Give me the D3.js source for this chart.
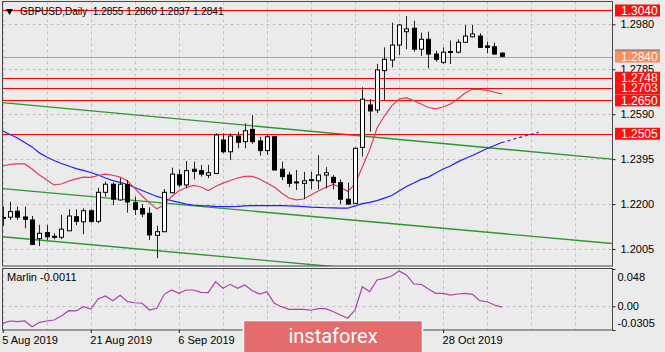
<!DOCTYPE html>
<html><head><meta charset="utf-8">
<script src="https://cdn.jsdelivr.net/npm/d3@7"></script>
<style>
html,body{margin:0;padding:0;background:#ebebeb;}
svg{display:block;font-family:"Liberation Sans",Arial,sans-serif;}
</style></head><body>
<svg id="c" width="665" height="352"></svg>
<script>
// ---------- DATA ----------
const symbolTitle = "GBPUSD,Daily";
const titleOHLC = ["1.2855", "1.2860", "1.2837", "1.2841"];
const open = [1.2141,1.2143,1.2169,1.2144,1.2131,1.2050,1.2076,1.2060,1.2056,1.2084,
  1.2145,1.2123,1.2171,1.2125,1.2251,1.2286,1.2218,1.2285,1.2206,1.2180,
  1.2160,1.2064,1.2080,1.2249,1.2327,1.2283,1.2351,1.2345,1.2325,1.2333,
  1.2478,1.2427,1.2495,1.2471,1.2524,1.2474,1.2432,1.2492,1.2351,1.2326,
  1.2296,1.2290,1.2304,1.2301,1.2326,1.2316,1.2293,1.2221,1.2203,1.2446,
  1.2630,1.2608,1.2779,1.2825,1.2890,1.2948,1.2963,1.2872,1.2915,1.2851,
  1.2815,1.2862,1.2859,1.2902,1.2926,1.2929,1.2886,1.2883,1.2855];
const high = [1.2189,1.2210,1.2189,1.2189,1.2148,1.2110,1.2109,1.2073,1.2153,1.2177,
  1.2177,1.2182,1.2177,1.2271,1.2297,1.2293,1.2314,1.2304,1.2232,1.2200,
  1.2186,1.2106,1.2265,1.2358,1.2351,1.2387,1.2384,1.2370,1.2370,1.2507,
  1.2507,1.2507,1.2514,1.2550,1.2586,1.2492,1.2500,1.2495,1.2384,1.2340,
  1.2348,1.2340,1.2340,1.2413,1.2360,1.2326,1.2307,1.2293,1.2446,1.2707,
  1.2655,1.2808,1.2880,1.2987,1.2981,1.3016,1.2996,1.2944,1.2948,1.2865,
  1.2880,1.2909,1.2915,1.2977,1.2977,1.2941,1.2905,1.2900,1.2860];
const low = [1.2105,1.2131,1.2131,1.2095,1.2022,1.2018,1.2044,1.2047,1.2048,1.2083,
  1.2109,1.2069,1.2119,1.2117,1.2232,1.2195,1.2215,1.2163,1.2153,1.2143,
  1.2044,1.1965,1.2079,1.2247,1.2273,1.2268,1.2307,1.2319,1.2312,1.2330,
  1.2420,1.2391,1.2442,1.2442,1.2461,1.2410,1.2413,1.2346,1.2304,1.2273,
  1.2261,1.2221,1.2264,1.2264,1.2268,1.2264,1.2200,1.2196,1.2203,1.2406,
  1.2514,1.2595,1.2652,1.2793,1.2847,1.2872,1.2861,1.2842,1.2789,1.2818,
  1.2808,1.2808,1.2854,1.2900,1.2923,1.2878,1.2854,1.2847,1.2837];
const close = [1.2142,1.2167,1.2143,1.2134,1.2025,1.2073,1.2058,1.2057,1.2091,1.2148,
  1.2125,1.2171,1.2125,1.2251,1.2286,1.2221,1.2286,1.2209,1.2177,1.2157,
  1.2066,1.2080,1.2251,1.2330,1.2283,1.2345,1.2342,1.2330,1.2336,1.2500,
  1.2427,1.2495,1.2468,1.2518,1.2471,1.2432,1.2492,1.2348,1.2319,1.2290,
  1.2293,1.2301,1.2306,1.2326,1.2336,1.2293,1.2221,1.2200,1.2442,1.2655,
  1.2604,1.2782,1.2828,1.2890,1.2977,1.2960,1.2872,1.2915,1.2851,1.2828,
  1.2859,1.2860,1.2902,1.2929,1.2938,1.2880,1.2880,1.2851,1.2841];
const redMA = [1.2365,1.2372,1.2374,1.2374,1.2352,1.2326,1.2304,1.2283,1.2287,1.2300,
  1.2309,1.2317,1.2316,1.2324,1.2330,1.2325,1.2317,1.2300,1.2268,1.2235,
  1.2205,1.2179,1.2196,1.2233,1.2257,1.2272,1.2281,1.2274,1.2259,1.2276,
  1.2291,1.2302,1.2313,1.2320,1.2320,1.2309,1.2291,1.2274,1.2248,1.2226,
  1.2218,1.2222,1.2239,1.2257,1.2272,1.2285,1.2274,1.2255,1.2287,1.2361,
  1.2435,1.2530,1.2582,1.2626,1.2656,1.2662,1.2649,1.2634,1.2619,1.2613,
  1.2621,1.2634,1.2656,1.2682,1.2698,1.2698,1.2693,1.2685,1.2678];
const blueMA = [1.2517,1.2502,1.2487,1.2467,1.2448,1.2422,1.2404,1.2389,1.2376,1.2365,
  1.2354,1.2346,1.2337,1.2326,1.2313,1.2302,1.2294,1.2285,1.2272,1.2259,
  1.2246,1.2233,1.2224,1.2215,1.2207,1.2200,1.2196,1.2193,1.2192,1.2190,
  1.2189,1.2189,1.2190,1.2192,1.2193,1.2193,1.2193,1.2193,1.2193,1.2192,
  1.2191,1.2189,1.2187,1.2186,1.2184,1.2183,1.2182,1.2182,1.2192,1.2202,
  1.2207,1.2215,1.2226,1.2237,1.2257,1.2276,1.2291,1.2307,1.2317,1.2335,
  1.2352,1.2365,1.2383,1.2398,1.2411,1.2426,1.2441,1.2454,1.2467];
const blueForecast = [1.2476,1.2485,1.2494,1.2503,1.2511];
const marlin = [-0.0219,-0.0189,-0.0196,-0.0189,-0.0263,-0.0206,-0.0189,-0.0176,-0.0125,-0.0057,
  -0.0060,-0.0005,-0.0035,0.0094,0.0133,0.0072,0.0142,0.0059,0.0046,0.0039,
  -0.0048,-0.0026,0.0154,0.0210,0.0167,0.0210,0.0210,0.0180,0.0175,0.0317,
  0.0232,0.0283,0.0232,0.0274,0.0201,0.0158,0.0188,0.0039,-0.0005,-0.0039,
  -0.0039,-0.0039,-0.0051,-0.0031,-0.0031,-0.0067,-0.0112,-0.0154,-0.0048,0.0252,
  0.0188,0.0338,0.0360,0.0390,0.0455,0.0403,0.0287,0.0283,0.0223,0.0167,
  0.0167,0.0145,0.0158,0.0167,0.0154,0.0072,0.0059,0.0017,-0.0011];
const marlinTitle = "Marlin -0.0011";
const channelStartIdx = 0, channelEndIdx = 83;
const channelStart = [1.2640, 1.2267, 1.2058];
const channelEnd = [1.2395, 1.2029, 1.1820];
const redLevels = [1.3040, 1.2748, 1.2703, 1.2650, 1.2505];
const currentLevel = 1.2840;
const priceTicks = [1.2980, 1.2785, 1.2590, 1.2395, 1.2200, 1.2005];
const marlinTicks = [0.048, 0.00, -0.0305];
const marlinTickLabels = ["0.048", "0.00", "-0.0305"];
const xTickIdx = [0, 12, 24, 60];
const xTickLabels = ["5 Aug 2019", "21 Aug 2019", "6 Sep 2019", "28 Oct 2019"];
const priceDomain = [1.19312, 1.30768];
const marlinDomain = [-0.0305, 0.048];

// ---------- LAYOUT ----------
const L = 2.5, R = 612.5, mT = 1.5, mB = 266, sT = 268.5, sB = 330;
const x = d3.scaleLinear().domain([0, 83]).range([2.7, 611.9]);
const y = d3.scaleLinear().domain(priceDomain).range([266, 2]);
const ym = d3.scaleLinear().domain(marlinDomain).range([sB, 269]);

const svg = d3.select("#c");
svg.append("rect").attr("width", 665).attr("height", 352).attr("fill", "#ebebeb");
const defs = svg.append("defs");
defs.append("clipPath").attr("id", "mc").append("rect").attr("x", L).attr("y", mT).attr("width", R - L).attr("height", mB - mT);
defs.append("clipPath").attr("id", "sc").append("rect").attr("x", L).attr("y", sT).attr("width", R - L).attr("height", sB - sT);
const gM = svg.append("g").attr("clip-path", "url(#mc)");
const gS = svg.append("g").attr("clip-path", "url(#sc)");

const gridColor = "#c2c2c2";
const gridIdx = d3.range(0, 84, 6);
[[gM, mT, mB], [gS, sT, sB]].forEach(([g, t, b]) => {
  g.selectAll(null).data(gridIdx).join("line")
    .attr("x1", d => Math.round(x(d)) + 0.5).attr("x2", d => Math.round(x(d)) + 0.5)
    .attr("y1", t).attr("y2", b)
    .attr("stroke", gridColor).attr("stroke-dasharray", "3,3");
});
gM.selectAll(null).data(priceTicks).join("line")
  .attr("x1", L).attr("x2", R)
  .attr("y1", d => Math.round(y(d)) + 0.5).attr("y2", d => Math.round(y(d)) + 0.5)
  .attr("stroke", gridColor).attr("stroke-dasharray", "3,3");
gS.append("line").attr("x1", L).attr("x2", R)
  .attr("y1", Math.round(ym(0)) + 0.5).attr("y2", Math.round(ym(0)) + 0.5)
  .attr("stroke", gridColor).attr("stroke-dasharray", "3,3");

// channel lines
gM.selectAll(null).data(channelStart).join("line")
  .attr("x1", x(channelStartIdx)).attr("y1", d => y(d))
  .attr("x2", x(channelEndIdx)).attr("y2", (d, i) => y(channelEnd[i]))
  .attr("stroke", "#2f962f").attr("stroke-width", 1.4);

// level lines
gM.selectAll(null).data(redLevels).join("line")
  .attr("x1", L).attr("x2", R)
  .attr("y1", d => Math.round(y(d)) + 0.5).attr("y2", d => Math.round(y(d)) + 0.5)
  .attr("stroke", "#ff0000").attr("stroke-width", 1);
gM.append("line").attr("x1", L).attr("x2", R)
  .attr("y1", Math.round(y(currentLevel)) + 0.5).attr("y2", Math.round(y(currentLevel)) + 0.5)
  .attr("stroke", "#f8895c").attr("stroke-width", 1);

// moving averages
const line = d3.line().x((d, i) => x(i)).y(d => y(d));
gM.append("path").attr("d", line(blueMA)).attr("fill", "none").attr("stroke", "#1f1fff").attr("stroke-width", 1.2);
const fc = [blueMA[blueMA.length - 1]].concat(blueForecast);
gM.append("path").attr("d", d3.line().x((d, i) => x(blueMA.length - 1 + i)).y(d => y(d))(fc))
  .attr("fill", "none").attr("stroke", "#1f1fff").attr("stroke-width", 1.2).attr("stroke-dasharray", "3,3");
gM.append("path").attr("d", line(redMA)).attr("fill", "none").attr("stroke", "#e23a5a").attr("stroke-width", 1.2);

// candles
const idx = d3.range(open.length);
gM.selectAll(null).data(idx).join("line")
  .attr("x1", i => Math.round(x(i)) + 0.5).attr("x2", i => Math.round(x(i)) + 0.5)
  .attr("y1", i => y(high[i])).attr("y2", i => y(low[i]))
  .attr("stroke", "#222").attr("stroke-width", 1);
gM.selectAll(null).data(idx).join("rect")
  .attr("x", i => Math.round(x(i)) - 1.5)
  .attr("width", 4)
  .attr("y", i => Math.min(y(open[i]), y(close[i])))
  .attr("height", i => Math.max(1, Math.abs(y(open[i]) - y(close[i]))))
  .attr("fill", i => close[i] >= open[i] ? "#ffffff" : "#000000")
  .attr("stroke", "#000").attr("stroke-width", 1);

// marlin
gS.append("path").attr("d", d3.line().x((d, i) => x(i)).y(d => ym(d))(marlin))
  .attr("fill", "none").attr("stroke", "#b040b0").attr("stroke-width", 1.2);

// borders
svg.append("rect").attr("x", L).attr("y", mT).attr("width", R - L).attr("height", mB - mT)
  .attr("fill", "none").attr("stroke", "#4a4a4a").attr("stroke-width", 1);
svg.append("rect").attr("x", L).attr("y", sT).attr("width", R - L).attr("height", sB - sT)
  .attr("fill", "none").attr("stroke", "#4a4a4a").attr("stroke-width", 1);

// axes
const fmt4 = d3.format(".4f");
const ax = svg.append("g").attr("transform", `translate(${R},0)`)
  .call(d3.axisRight(y).tickValues(priceTicks).tickSize(3).tickPadding(5).tickFormat(fmt4));
const axS = svg.append("g").attr("transform", `translate(${R},0)`)
  .call(d3.axisRight(ym).tickValues(marlinTicks).tickSize(3).tickPadding(2).tickFormat((d, i) => marlinTickLabels[i]));
axS.selectAll(".tick text").attr("dy", (d, i) => i === 0 ? "1.05em" : (i === 2 ? "-0.3em" : "0.32em"));
const axB = svg.append("g").attr("transform", `translate(0,${sB})`)
  .call(d3.axisBottom(x).tickValues(xTickIdx).tickSize(3).tickPadding(3).tickFormat((d, i) => xTickLabels[i]));
axB.selectAll(".tick text").attr("text-anchor", "start").attr("dx", -1);
[ax, axS, axB].forEach(a => {
  a.select(".domain").remove();
  a.selectAll(".tick line").attr("stroke", "#222");
  a.selectAll(".tick text").attr("fill", "#000").attr("font-size", 11)
    .attr("font-family", "Liberation Sans, Arial, sans-serif");
});

// level price boxes
const boxes = svg.append("g");
boxes.selectAll(null).data(redLevels).join("rect")
  .attr("x", 615).attr("width", 45).attr("y", d => y(d) - 6).attr("height", 12).attr("fill", "#ff1010");
boxes.selectAll(null).data(redLevels).join("text")
  .attr("x", 621).attr("y", d => y(d) + 4.3).text(d => fmt4(d))
  .attr("fill", "#fff").attr("font-size", 12);
boxes.append("rect").attr("x", 615).attr("width", 45).attr("y", y(currentLevel) - 6).attr("height", 12).attr("fill", "#fa8c60");
boxes.append("line").attr("x1", 615).attr("x2", 660).attr("y1", y(currentLevel) - 6.5).attr("y2", y(currentLevel) - 6.5).attr("stroke", "#7a4a30");
boxes.append("text").attr("x", 621).attr("y", y(currentLevel) + 4.3).text(fmt4(currentLevel))
  .attr("fill", "#fff2ea").attr("font-size", 12);

// title
svg.append("path").attr("d", d3.symbol(d3.symbolTriangle, 22)())
  .attr("transform", "translate(9.5,11) rotate(180)").attr("fill", "#000");
svg.append("text").attr("x", 20).attr("y", 15).attr("font-size", 10).attr("fill", "#000")
  .style("white-space", "pre")
  .text(symbolTitle + "  " + titleOHLC.join(" "));
svg.append("text").attr("x", 7).attr("y", 281).attr("font-size", 11).attr("fill", "#000").text(marlinTitle);

// logo
svg.append("rect").attr("x", 243.5).attr("y", 320.5).attr("width", 179).attr("height", 40)
  .attr("fill", "#e46c6c").attr("stroke", "#f6f6f6").attr("stroke-width", 1.5);
svg.append("text").attr("x", 333).attr("y", 343).attr("text-anchor", "middle")
  .attr("font-family", "Roboto, 'Open Sans', sans-serif").attr("font-size", 20)
  .attr("fill", "#ffffff").text("instaforex");
</script>
</body></html>
